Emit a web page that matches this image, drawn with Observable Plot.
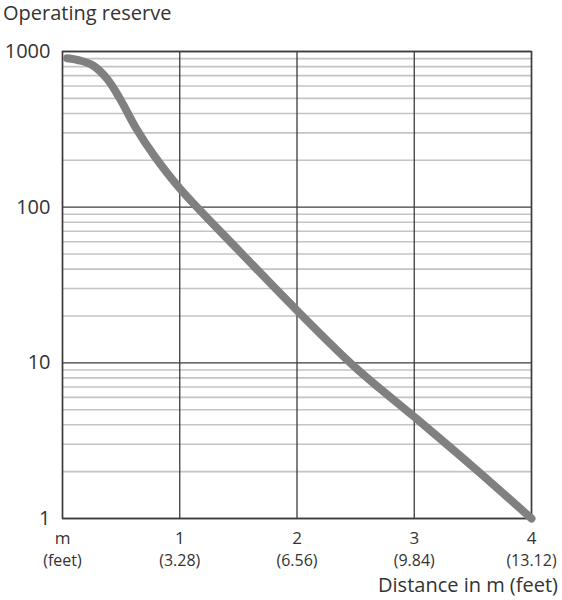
<!DOCTYPE html>
<html><head><meta charset="utf-8">
<script src="https://cdn.jsdelivr.net/npm/d3@7"></script>
<script src="https://cdn.jsdelivr.net/npm/@observablehq/plot@0.6"></script>
<style>
body{margin:0;background:#fff;font-family:"Open Sans",sans-serif;color:#333;width:562px;}
#title{font-size:20px;line-height:26px;height:26px;padding-left:3px;white-space:nowrap;}
#xlabel{font-size:20px;line-height:29px;height:30px;text-align:right;padding-right:4px;white-space:nowrap;}
</style></head><body>
<div id="title">Operating reserve</div>
<div id="chart"></div>
<div id="xlabel">Distance in m (feet)</div>
<script>
// Curve values (distance in m, operating reserve)
const distance = [0.04, 0.15, 0.26, 0.38, 0.49, 0.63, 0.78, 1.0, 1.5, 2.0, 2.5, 3.0, 3.5, 4.0];
const reserve  = [906, 875, 813, 668, 497, 319, 215, 132, 53, 21.7, 9.3, 4.5, 2.15, 1];

// Axis ticks
const xTicks = [0, 1, 2, 3, 4];
const xTickTop = ["m", "1", "2", "3", "4"];
const xTickBottom = ["(feet)", "(3.28)", "(6.56)", "(9.84)", "(13.12)"];
const yMajor = [1, 10, 100, 1000];
const yMinor = [2, 3, 4, 5, 6, 7, 8, 9, 20, 30, 40, 50, 60, 70, 80, 90, 200, 300, 400, 500, 600, 700, 800, 900];

const data = distance.map((d, i) => ({distance: d, reserve: reserve[i]}));

const chart = Plot.plot({
  width: 562,
  height: 544,
  marginTop: 25,
  marginBottom: 52,
  marginLeft: 62,
  marginRight: 31,
  style: {fontFamily: "Open Sans, sans-serif", fontSize: "19px", color: "#333", background: "white"},
  x: {domain: [0, 4]},
  y: {type: "log", domain: [1, 1000]},
  marks: [
    Plot.ruleY(yMinor, {stroke: "#c4c4c4", strokeWidth: 1.6}),
    Plot.ruleY(yMajor, {stroke: "#3c3c3c", strokeWidth: 1.3}),
    Plot.ruleX(xTicks, {stroke: "#3c3c3c", strokeWidth: 1.3}),
    Plot.frame({stroke: "#3c3c3c", strokeWidth: 1.5}),
    Plot.line(data, {x: "distance", y: "reserve", stroke: "#808080", strokeWidth: 8, strokeLinecap: "round", strokeLinejoin: "round", curve: "catmull-rom"}),
    Plot.axisY({ticks: yMajor, tickFormat: d => String(d), tickSize: 0, tickPadding: 12, fontSize: 20, label: null}),
    Plot.axisX({ticks: xTicks, tickFormat: d => xTickTop[xTicks.indexOf(d)], tickSize: 0, tickPadding: 13, fontSize: 17, label: null}),
    Plot.axisX({ticks: xTicks, tickFormat: d => xTickBottom[xTicks.indexOf(d)], tickSize: 0, tickPadding: 36, fontSize: 16, label: null})
  ]
});
document.getElementById("chart").appendChild(chart);
</script>
</body></html>
